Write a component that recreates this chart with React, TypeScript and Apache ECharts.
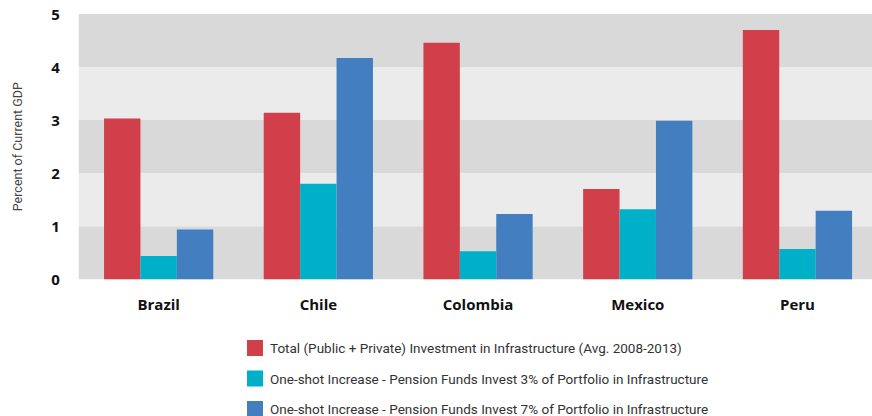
import React, { useEffect, useRef } from "react";
import * as echarts from "echarts";

const categories = ["Brazil", "Chile", "Colombia", "Mexico", "Peru"];
const seriesNames = [
  "Total (Public + Private) Investment in Infrastructure (Avg. 2008-2013)",
  "One-shot Increase - Pension Funds Invest 3% of Portfolio in Infrastructure",
  "One-shot Increase - Pension Funds Invest 7% of Portfolio in Infrastructure",
];
const totalInvestment = [3.03, 3.14, 4.46, 1.7, 4.7];
const increase3 = [0.44, 1.8, 0.53, 1.32, 0.57];
const increase7 = [0.94, 4.17, 1.23, 2.99, 1.29];
const colors = ["#d1404a", "#00afc8", "#427ec0"];

export default function App() {
  const ref = useRef<HTMLDivElement>(null);
  useEffect(() => {
    if (!ref.current) return;
    const chart = echarts.init(ref.current, null, { renderer: "svg" });
    const values = [totalInvestment, increase3, increase7];
    chart.setOption({
      animation: false,
      color: colors,
      grid: { left: 78.8, right: 2.7, top: 14, bottom: 144.7 },
      legend: {
        orient: "vertical",
        left: 247,
        top: 340,
        padding: 0,
        itemWidth: 16,
        itemHeight: 16,
        itemGap: 14.5,
        icon: "rect",
        textStyle: { fontFamily: "Roboto", fontSize: 13.5, color: "#333", padding: [0, 0, 0, 2] },
        data: seriesNames,
      },
      xAxis: {
        type: "category",
        data: categories,
        axisLine: { show: false },
        axisTick: { show: false },
        axisLabel: {
          fontFamily: "Open Sans",
          fontWeight: "bold",
          fontSize: 15,
          color: "#111",
          margin: 17,
        },
      },
      yAxis: {
        type: "value",
        min: 0,
        max: 5,
        interval: 1,
        name: "Percent of Current GDP",
        nameLocation: "middle",
        nameGap: 55,
        nameTextStyle: { fontFamily: "Roboto", fontSize: 12.5, color: "#444" },
        axisLine: { show: false },
        axisTick: { show: false },
        splitLine: { show: false },
        splitArea: { show: true, areaStyle: { color: ["#d9d9d9", "#ebebeb"] } },
        axisLabel: {
          fontFamily: "Open Sans",
          fontWeight: "bold",
          fontSize: 15,
          color: "#111",
          margin: 19,
        },
      },
      series: seriesNames.map((name, i) => ({
        name,
        type: "bar",
        data: values[i],
        barGap: "0%",
        barCategoryGap: "31.6%",
        itemStyle: { color: colors[i] },
      })),
    });
    return () => chart.dispose();
  }, []);
  return (
    <div style={{ position: "absolute", left: 0, top: 0, width: 872, height: 416, overflow: "hidden", background: "#fff" }}>
      <div ref={ref} style={{ width: 880, height: 424 }} />
    </div>
  );
}
